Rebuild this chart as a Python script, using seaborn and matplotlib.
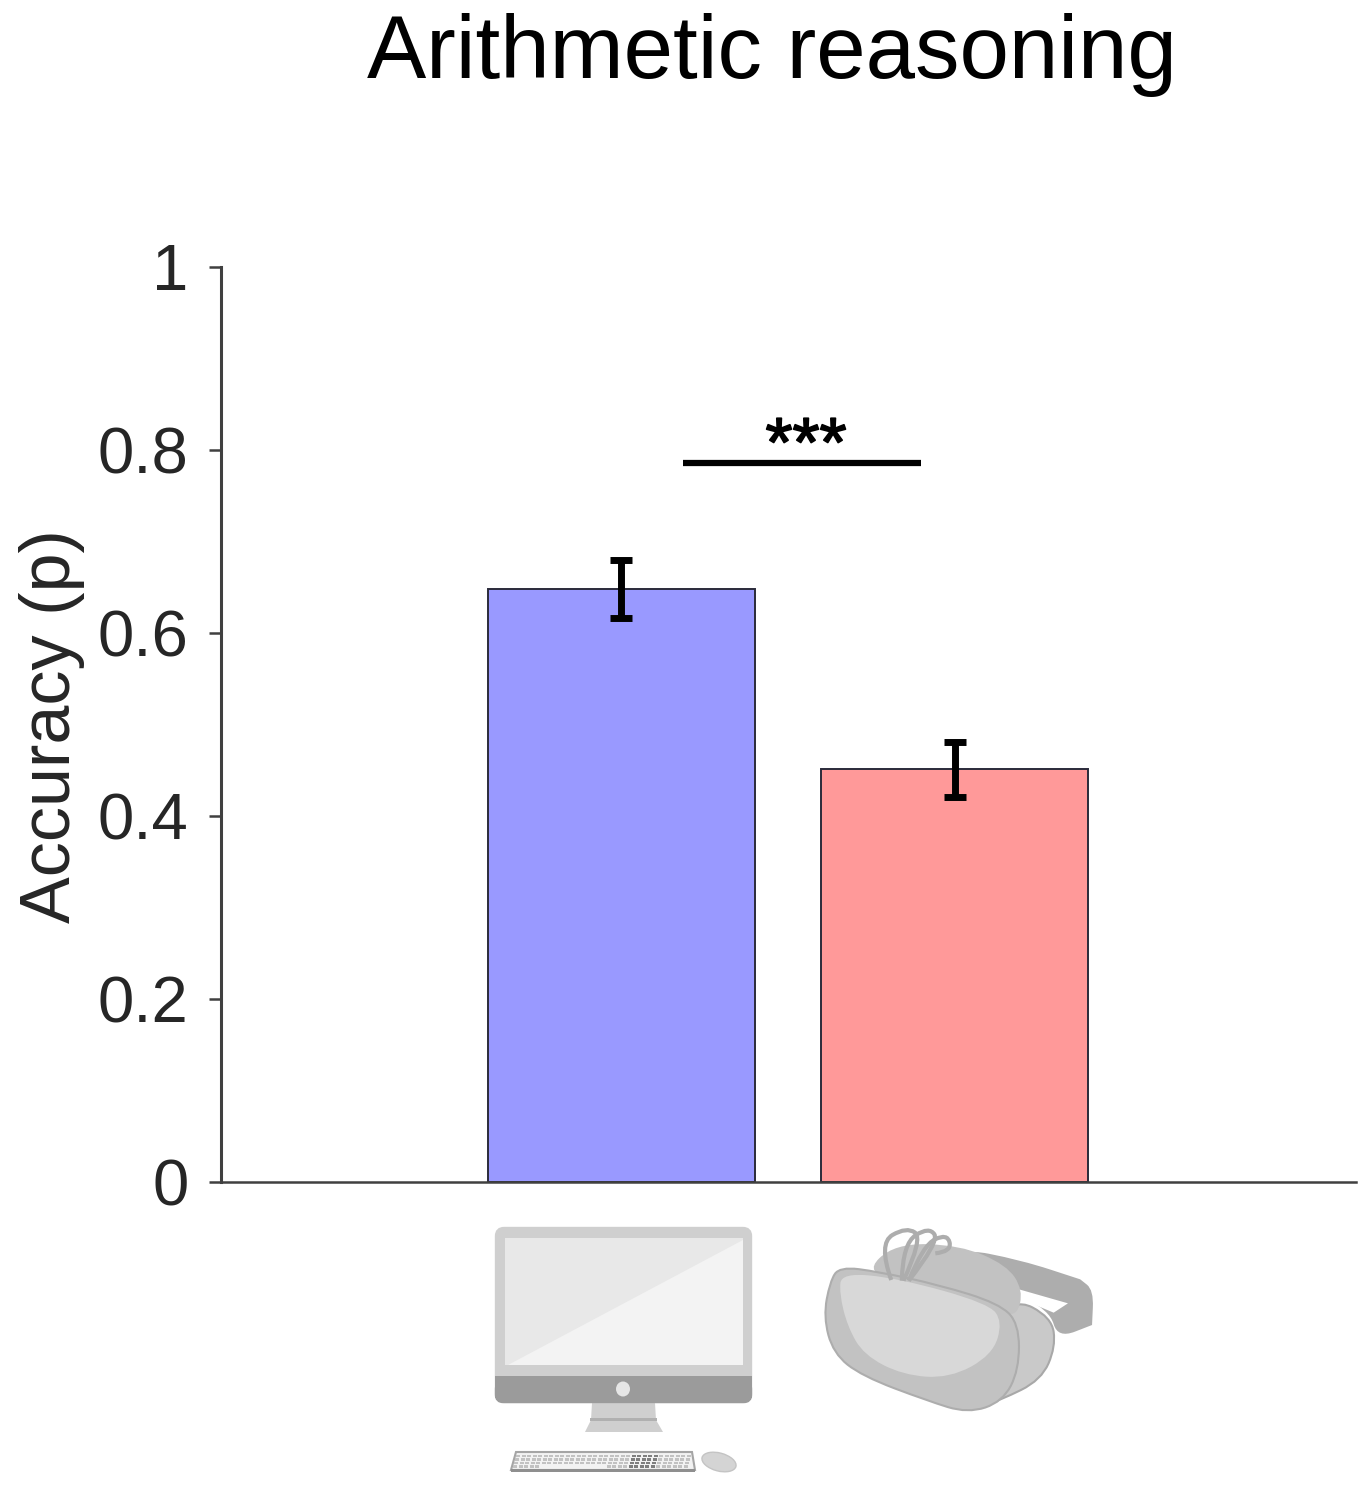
import matplotlib.pyplot as plt
import matplotlib.patheffects as pe
from matplotlib.patches import PathPatch, Polygon, Rectangle, FancyBboxPatch, Ellipse
from matplotlib.path import Path
import seaborn as sns
import pandas as pd

conditions = ['Desktop', 'VR']
accuracy = [0.648, 0.451]
sem = [0.032, 0.030]
bar_colors = ['#9999FF', '#FF9999']
y_ticks = [0, 0.2, 0.4, 0.6, 0.8, 1]
y_tick_labels = ['0', '0.2', '0.4', '0.6', '0.8', '1']
W, H = 1371, 1495


def to_px(pts):
    return [(470 + x / 2.45, 1210 + y / 3) for x, y in pts]


def smooth(ax, pts, fc, ec='none', lw=0, closed=True, z=1):
    """Smooth shape through midpoints, given in zoomed icon coordinates."""
    p = to_px(pts)
    if closed:
        mid = [((p[i][0] + p[(i + 1) % len(p)][0]) / 2, (p[i][1] + p[(i + 1) % len(p)][1]) / 2) for i in range(len(p))]
        verts, codes = [mid[-1]], [Path.MOVETO]
        for i in range(len(p)):
            verts += [p[i], mid[i]]
            codes += [Path.CURVE3, Path.CURVE3]
    else:
        verts, codes = [p[0]], [Path.MOVETO]
        for i in range(1, len(p) - 1):
            end = p[i + 1] if i == len(p) - 2 else ((p[i][0] + p[i + 1][0]) / 2, (p[i][1] + p[i + 1][1]) / 2)
            verts += [p[i], end]
            codes += [Path.CURVE3, Path.CURVE3]
    ax.add_patch(PathPatch(Path(verts, codes), facecolor=fc if closed else 'none', edgecolor=ec, linewidth=lw, zorder=z))


def draw_monitor(ax):
    ax.add_patch(Polygon([(592, 1403), (655, 1403), (656, 1420), (663, 1432), (585, 1432), (591, 1420)], fc='#cfcfcf', ec='none', zorder=1))
    ax.add_patch(Rectangle((590, 1418), 67, 2.5, fc='#b0b0b0', ec='none', zorder=2))
    ax.add_patch(FancyBboxPatch((499, 1231), 249, 168, boxstyle='round,pad=0,rounding_size=5', mutation_aspect=1, fc='#cfcfcf', ec='#cfcfcf', lw=6, zorder=1))
    ax.add_patch(Rectangle((495, 1376), 257, 22, fc='#9b9b9b', ec='none', zorder=2))
    ax.add_patch(FancyBboxPatch((499, 1385), 249, 14, boxstyle='round,pad=0,rounding_size=4', fc='#9b9b9b', ec='#9b9b9b', lw=6, zorder=2))
    ax.add_patch(Rectangle((505, 1238), 238, 127, fc='#f3f3f3', ec='none', zorder=3))
    ax.add_patch(Polygon([(505, 1238), (743, 1238), (743, 1240), (508, 1365), (505, 1365)], fc='#e8e8e8', ec='none', zorder=4))
    ax.add_patch(Ellipse((623, 1389), 14, 15, fc='#e6e6e6', ec='none', zorder=5))


def draw_keyboard(ax):
    ax.add_patch(Polygon([(516, 1452), (692, 1452), (695, 1470), (511, 1470)], fc='#f2f2f2', ec='#a5a5a5', lw=1.5, zorder=1))
    for row in range(4):
        y = 1454.5 + row * 3.6
        for col in range(32):
            x = 516 + col * 5.5 - row * 1
            if row == 3 and 4 < col < 17:
                continue
            shade = '#7f7f7f' if 21 <= col <= 25 else '#c2c2c2'
            ax.add_patch(Rectangle((x, y), 4, 2.4, fc=shade, ec='none', zorder=2))
    ax.add_patch(Rectangle((511, 1469), 184, 2.5, fc='#8f8f8f', ec='none', zorder=2))
    ax.add_patch(Ellipse((719, 1462), 35, 18, angle=15, fc='#d4d4d4', ec='#c4c4c4', lw=1, zorder=1))


def draw_headset(ax):
    # strap behind the visor
    smooth(ax, [(1190, 112), (1350, 150), (1495, 208), (1495, 208), (1528, 240), (1524, 345), (1524, 345),
                (1440, 385), (1420, 300), (1300, 230)], '#adadad')
    ax.add_patch(Polygon(to_px([(1345, 238), (1465, 280), (1430, 308), (1340, 262)]), fc='white', ec='none', zorder=1.1))
    # face cushion
    smooth(ax, [(1330, 262), (1425, 322), (1435, 410), (1400, 510), (1300, 570), (1240, 595), (1260, 400)],
           '#c9c9c9', ec='#a8a8a8', lw=1.5, z=1.2)
    # top cover
    smooth(ax, [(965, 190), (1040, 100), (1200, 105), (1315, 165), (1355, 240), (1340, 320), (1290, 300),
                (1100, 215)], '#c2c2c2', z=1.3)
    # front of the visor
    smooth(ax, [(905, 170), (1000, 185), (1150, 225), (1295, 280), (1345, 340), (1345, 480), (1305, 575),
                (1220, 610), (1120, 572), (960, 498), (890, 430), (866, 320), (882, 215)],
           '#c2c2c2', ec='#adadad', lw=1.5, z=1.4)
    smooth(ax, [(910, 188), (1050, 205), (1270, 280), (1305, 335), (1280, 435), (1175, 505), (1060, 495),
                (965, 435), (925, 350), (905, 250)], '#d8d8d8', z=1.5)
    # cable loops on top
    loops = [[(1032, 210), (1000, 100), (1070, 50), (1110, 85), (1062, 212)],
             [(1058, 212), (1060, 100), (1125, 50), (1150, 95), (1075, 212)],
             [(1075, 212), (1110, 105), (1170, 70), (1180, 125), (1140, 130)]]
    for loop in loops:
        smooth(ax, loop, 'none', ec='#adadad', lw=3, closed=False, z=1.6)


if __name__ == "__main__":
    sns.set_style('white')
    plt.rcParams['font.family'] = ['Liberation Sans', 'DejaVu Sans']

    df = pd.DataFrame({'condition': conditions, 'accuracy': accuracy})
    fig = plt.figure(figsize=(W / 100, H / 100), dpi=100)
    ax = fig.add_axes([221 / W, 1 - 1182 / H, 1135 / W, 915 / H])

    sns.barplot(data=df, x='condition', y='accuracy', hue='condition', palette=bar_colors,
                width=0.8, errorbar=None, edgecolor='#2a2a3a', linewidth=1.4, legend=False,
                saturation=1, ax=ax)
    ax.errorbar(conditions, accuracy, yerr=sem, fmt='none', ecolor='black', elinewidth=5,
                capsize=8, capthick=5, zorder=5)

    # significance bar
    ax.plot([0.186, 0.898], [0.786, 0.786], color='black', lw=4.5, solid_capstyle='butt', zorder=5)

    ax.set_xlim(-1.2012, 2.204)
    ax.set_ylim(0, 1)
    ax.set_xticks([])
    ax.set_yticks(y_ticks)
    ax.set_yticklabels(y_tick_labels)
    ax.set_xlabel('')
    ax.set_ylabel('')
    ax.tick_params(axis='y', left=True, length=8.5, width=1.8, color='#404040', pad=15,
                   labelsize=47, labelcolor='#262626')
    sns.despine(ax=ax)
    ax.spines['left'].set_color('#404040')
    ax.spines['left'].set_linewidth(2.2)
    ax.spines['bottom'].set_color('#404040')
    ax.spines['bottom'].set_linewidth(1.8)

    fig.text(772 / W, 1 - 78 / H, 'Arithmetic reasoning', fontsize=64, color='black', ha='center', va='baseline')
    fig.text(52 / W, 1 - 726 / H, 'Accuracy (p)', fontsize=50.5, color='#262626', rotation=90,
             ha='center', va='center', rotation_mode='anchor')
    stars = fig.text(806 / W, 1 - 466 / H, '***', fontsize=50, color='black', ha='center', va='baseline')
    stars.set_path_effects([pe.withStroke(linewidth=1.2, foreground='black')])

    # icons under the bars, drawn in pixel coordinates
    icons = fig.add_axes([0, 0, 1, 1], facecolor='none')
    icons.set_xlim(0, W)
    icons.set_ylim(H, 0)
    icons.axis('off')
    draw_monitor(icons)
    draw_keyboard(icons)
    draw_headset(icons)

    fig.savefig('out.png', dpi=100)
